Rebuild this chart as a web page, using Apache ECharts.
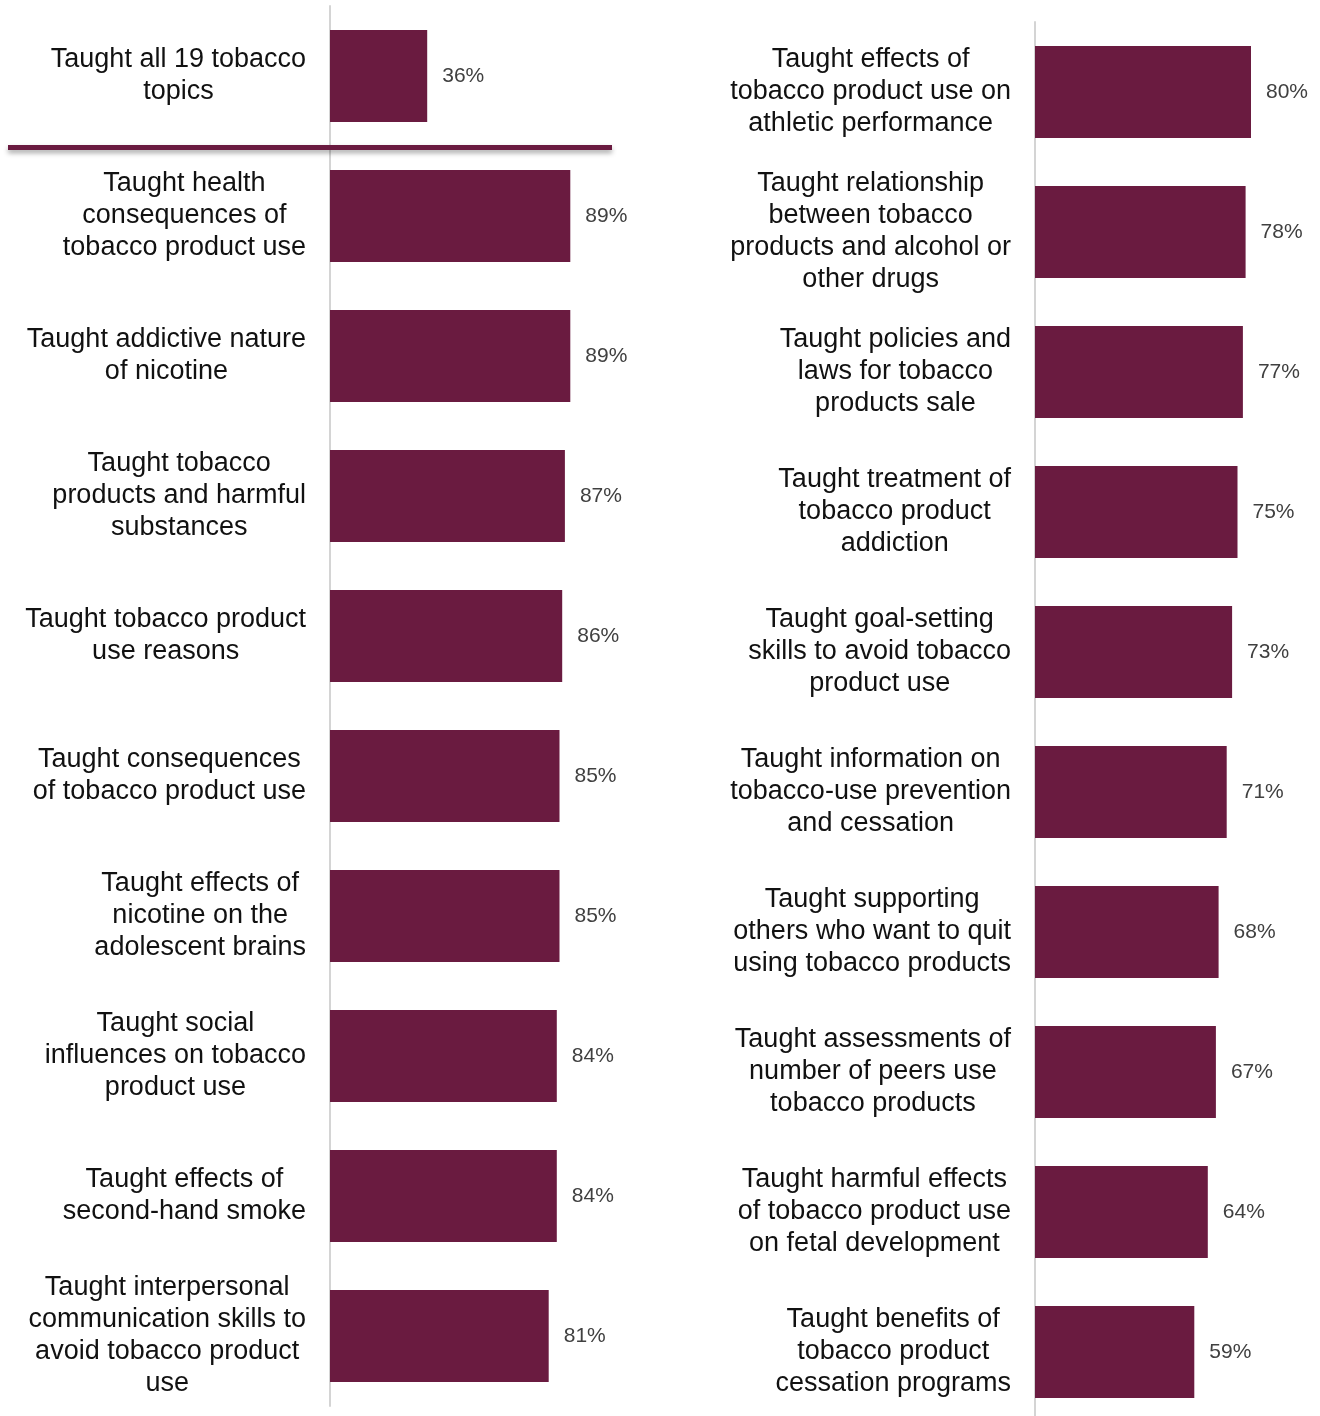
<!DOCTYPE html>
<html>
<head>
<meta charset="utf-8">
<style>
  html, body { margin: 0; padding: 0; background: #fff; }
  #chart { width: 1320px; height: 1416px; }
</style>
<script src="https://cdn.jsdelivr.net/npm/echarts@6/dist/echarts.min.js"></script>
</head>
<body>
<div id="chart"></div>
<script>
// Share of schools teaching each tobacco topic (%)
const leftTopics = [
  "Taught all 19 tobacco\ntopics",
  "Taught health\nconsequences of\ntobacco product use",
  "Taught addictive nature\nof nicotine",
  "Taught tobacco\nproducts and harmful\nsubstances",
  "Taught tobacco product\nuse reasons",
  "Taught consequences\nof tobacco product use",
  "Taught effects of\nnicotine on the\nadolescent brains",
  "Taught social\ninfluences on tobacco\nproduct use",
  "Taught effects of\nsecond-hand smoke",
  "Taught interpersonal\ncommunication skills to\navoid tobacco product\nuse"
];
const leftValues = [36, 89, 89, 87, 86, 85, 85, 84, 84, 81];

const rightTopics = [
  "Taught effects of\ntobacco product use on\nathletic performance",
  "Taught relationship\nbetween tobacco\nproducts and alcohol or\nother drugs",
  "Taught policies and\nlaws for tobacco\nproducts sale",
  "Taught treatment of\ntobacco product\naddiction",
  "Taught goal-setting\nskills to avoid tobacco\nproduct use",
  "Taught information on\ntobacco-use prevention\nand cessation",
  "Taught supporting\nothers who want to quit\nusing tobacco products",
  "Taught assessments of\nnumber of peers use\ntobacco products",
  "Taught harmful effects\nof tobacco product use\non fetal development",
  "Taught benefits of\ntobacco product\ncessation programs"
];
const rightValues = [80, 78, 77, 75, 73, 71, 68, 67, 64, 59];

const BAR = '#6a1b40';
const LABEL_FONT = '"Liberation Sans Narrow", "Liberation Sans", Arial, sans-serif';

const chart = echarts.init(document.getElementById('chart'), null, { renderer: 'canvas' });

function centeredLines(v) {
  return v.split('\n').map(s => '{c|' + s + '}').join('\n');
}

function catAxis(gridIndex, data) {
  return {
    type: 'category',
    gridIndex,
    data,
    inverse: true,
    axisTick: { show: false },
    axisLine: { show: true, lineStyle: { color: '#d4d4d4', width: 2 } },
    axisLabel: {
      margin: 24,
      formatter: centeredLines,
      rich: {
        c: {
          align: 'center',
          fontFamily: LABEL_FONT,
          fontSize: 27,
          lineHeight: 32,
          color: '#111'
        }
      }
    }
  };
}

function valAxis(gridIndex) {
  return { type: 'value', gridIndex, min: 0, max: 100, show: false };
}

function barSeries(idx, values) {
  return {
    type: 'bar',
    xAxisIndex: idx,
    yAxisIndex: idx,
    data: values,
    barWidth: 92,
    itemStyle: { color: BAR },
    label: {
      show: true,
      position: 'right',
      distance: 15,
      formatter: '{c}%',
      color: '#404040',
      fontFamily: LABEL_FONT,
      fontSize: 21
    },
    silent: true,
    animation: false
  };
}

chart.setOption({
  animation: false,
  grid: [
    { left: 330, top: 6, width: 270, height: 1400, outerBoundsMode: 'none' },
    { left: 1035, top: 22, width: 270, height: 1400, outerBoundsMode: 'none' }
  ],
  xAxis: [valAxis(0), valAxis(1)],
  yAxis: [catAxis(0, leftTopics), catAxis(1, rightTopics)],
  series: [barSeries(0, leftValues), barSeries(1, rightValues)],
  graphic: [{
    type: 'line',
    shape: { x1: 8, y1: 147.5, x2: 612, y2: 147.5 },
    style: {
      stroke: BAR,
      lineWidth: 5,
      shadowBlur: 5,
      shadowOffsetY: 3,
      shadowColor: 'rgba(0,0,0,0.35)'
    },
    z: 10
  }]
});
</script>
</body>
</html>
